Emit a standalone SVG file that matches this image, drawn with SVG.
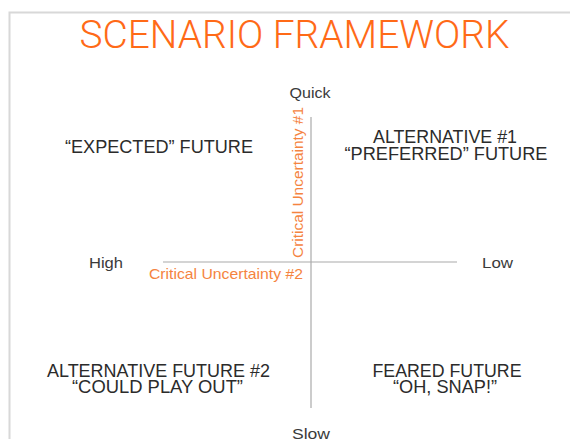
<svg xmlns="http://www.w3.org/2000/svg" width="570" height="439" viewBox="0 0 570 439">
<style>
.lbl{font-family:"Liberation Sans",Arial,sans-serif;fill:#2b2b2b;text-anchor:middle}
.q{font-size:17.5px}
.ax{font-size:15.5px;fill:#3a3a3a}
.cu{font-family:"Liberation Sans",Arial,sans-serif;font-size:14.5px;fill:#f5843f}
.axis{stroke:#aaa;stroke-width:1.2;fill:none}
</style>
<rect x="0" y="0" width="570" height="439" fill="#fff"/>
<path d="M9.5,439 V12.5 H570" fill="none" stroke="#d8d8d8" stroke-width="2"/>
<text x="294.5" y="48" font-family="Roboto,'Liberation Sans',sans-serif" font-weight="300" font-size="39" fill="#ff6a17" text-anchor="middle" textLength="430" lengthAdjust="spacingAndGlyphs">SCENARIO FRAMEWORK</text>
<g id="connectors">
<line class="axis" x1="311" y1="117" x2="311" y2="408"/>
<line class="axis" x1="163" y1="262" x2="457" y2="262"/>
</g>
<g id="axis-labels">
<text class="lbl ax" x="310" y="98" textLength="41" lengthAdjust="spacingAndGlyphs">Quick</text>
<text class="lbl ax" x="311" y="439" textLength="38" lengthAdjust="spacingAndGlyphs">Slow</text>
<text class="lbl ax" x="106" y="268" textLength="34" lengthAdjust="spacingAndGlyphs">High</text>
<text class="lbl ax" x="497.5" y="268" textLength="31" lengthAdjust="spacingAndGlyphs">Low</text>
<text class="cu" x="303" y="279" text-anchor="end" textLength="154" lengthAdjust="spacingAndGlyphs">Critical Uncertainty #2</text>
<text class="cu" transform="translate(303,258) rotate(-90)" textLength="151" lengthAdjust="spacingAndGlyphs">Critical Uncertainty #1</text>
</g>
<g id="expected">
<text class="lbl q" x="159" y="153" textLength="188" lengthAdjust="spacingAndGlyphs">“EXPECTED” FUTURE</text>
</g>
<g id="preferred">
<text class="lbl q" x="445" y="143" textLength="144" lengthAdjust="spacingAndGlyphs">ALTERNATIVE #1</text>
<text class="lbl q" x="446" y="160" textLength="203" lengthAdjust="spacingAndGlyphs">“PREFERRED” FUTURE</text>
</g>
<g id="could-play-out">
<text class="lbl q" x="158.5" y="377" textLength="223" lengthAdjust="spacingAndGlyphs">ALTERNATIVE FUTURE #2</text>
<text class="lbl q" x="157.5" y="393" textLength="171" lengthAdjust="spacingAndGlyphs">“COULD PLAY OUT”</text>
</g>
<g id="feared">
<text class="lbl q" x="447" y="377" textLength="149" lengthAdjust="spacingAndGlyphs">FEARED FUTURE</text>
<text class="lbl q" x="445" y="393" textLength="104" lengthAdjust="spacingAndGlyphs">“OH, SNAP!”</text>
</g>
</svg>
